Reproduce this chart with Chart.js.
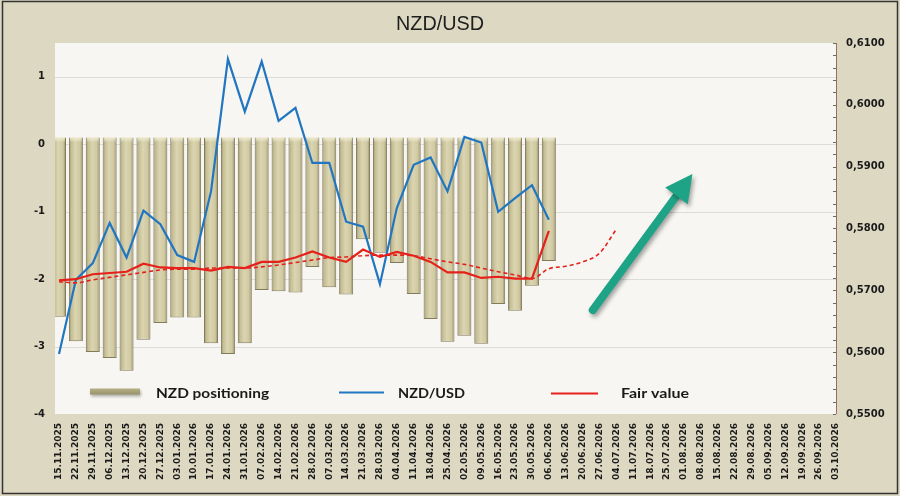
<!DOCTYPE html>
<html><head><meta charset="utf-8">
<script src="https://cdn.jsdelivr.net/npm/chart.js@4.4.1/dist/chart.umd.min.js"></script>
<style>html,body{margin:0;padding:0;background:#dcd8c2;}canvas{display:block;}</style>
</head><body>
<canvas id="c" width="900" height="496"></canvas>
<script>
// ---------- DATA ----------
const categories = ["15.11.2025","22.11.2025","29.11.2025","06.12.2025","13.12.2025","20.12.2025","27.12.2025",
"03.01.2026","10.01.2026","17.01.2026","24.01.2026","31.01.2026","07.02.2026","14.02.2026","21.02.2026","28.02.2026",
"07.03.2026","14.03.2026","21.03.2026","28.03.2026","04.04.2026","11.04.2026","18.04.2026","25.04.2026","02.05.2026",
"09.05.2026","16.05.2026","23.05.2026","30.05.2026","06.06.2026","13.06.2026","20.06.2026","27.06.2026","04.07.2026",
"11.07.2026","18.07.2026","25.07.2026","01.08.2026","08.08.2026","15.08.2026","22.08.2026","29.08.2026","05.09.2026",
"12.09.2026","19.09.2026","26.09.2026","03.10.2026"];

const nzdPositioning = [-2.56,-2.92,-3.08,-3.17,-3.36,-2.90,-2.65,-2.57,-2.57,-2.95,-3.11,-2.95,-2.16,-2.18,-2.20,-1.82,
-2.12,-2.23,-1.41,-1.61,-1.76,-2.22,-2.59,-2.93,-2.84,-2.96,-2.37,-2.47,-2.10,-1.73];

const nzdUsd = [0.5597,0.5717,0.5744,0.5809,0.5753,0.5829,0.5807,0.5757,0.5746,0.5860,0.6074,0.5989,0.6070,0.5974,
0.5995,0.5906,0.5906,0.5811,0.5803,0.5710,0.5833,0.5903,0.5915,0.5860,0.5948,0.5939,0.5827,0.5849,0.5870,0.5814];

const fairValue = [0.5716,0.5718,0.5726,0.5728,0.5730,0.5743,0.5737,0.5736,0.5736,0.5732,0.5738,0.5736,0.5746,0.5746,
0.5753,0.5763,0.5753,0.5746,0.5766,0.5754,0.5762,0.5756,0.5746,0.5729,0.5729,0.5720,0.5722,0.5719,0.5719,0.5796];

const fairValueTrend = [0.5714,0.5712,0.5717,0.5721,0.5725,0.5729,0.5733,0.5734,0.5734,0.5736,0.5736,0.5736,0.5738,
0.5741,0.5745,0.5749,0.5753,0.5754,0.5756,0.5757,0.5757,0.5756,0.5751,0.5746,0.5742,0.5736,0.5730,0.5725,0.5719,
0.5735,0.5739,0.5746,0.5760,0.5799];

const leftAxis = {min: -4, max: 1.5, step: 1};
const rightAxis = {min: 0.55, max: 0.61, step: 0.01, minorPerMajor: 5};
const titleText = "NZD/USD";
const legendLabels = ["NZD positioning", "NZD/USD", "Fair value"];
// arrow annotation, in data coordinates (category index, right-axis value)
const trendArrow = {from: [31.6, 0.5668], to: [37.5, 0.5888]};

// ---------- STYLE ----------
const BEIGE = '#dcd8c2', PLOT = '#f7f6f2', GRID = '#dedcd6';
const BLUE = '#2176c1', RED = '#e5211a', TEAL = '#1fa386';
const TXT = '#1a1a1a';
Chart.defaults.font.family = "'DejaVu Sans', sans-serif";

function drawScaled(ctx, text, x, y, font, targetW, align, color) {
  ctx.save();
  ctx.font = font;
  const w = ctx.measureText(text).width;
  const s = targetW / w;
  ctx.translate(x, y);
  ctx.scale(s, 1);
  ctx.fillStyle = color || TXT;
  ctx.textAlign = 'left';
  ctx.textBaseline = 'alphabetic';
  ctx.fillText(text, align === 'center' ? -w / 2 : 0, 0);
  ctx.restore();
}

// gives each bar a cylinder-like horizontal gradient, using the bar's own pixel position
const barShading = {
  id: 'barShading',
  beforeDatasetsDraw(chart) {
    const meta = chart.getDatasetMeta(0);
    const ctx = chart.ctx;
    meta.data.forEach(el => {
      const w = el.width, x = el.x;
      if (!isFinite(x) || !isFinite(w)) return;
      const g = ctx.createLinearGradient(x - w / 2, 0, x + w / 2, 0);
      g.addColorStop(0, '#8f8963');
      g.addColorStop(0.16, '#c4bd95');
      g.addColorStop(0.45, '#dbd5b0');
      g.addColorStop(0.8, '#cfc8a1');
      g.addColorStop(1, '#8c8660');
      el.options = Object.assign({}, el.options, {backgroundColor: g});
    });
  },
  afterDatasetDraw(chart, args) {
    if (args.index !== 0) return;
    const ctx = chart.ctx, a = chart.chartArea;
    ctx.save();
    ctx.beginPath(); ctx.rect(a.left - 4, a.top, a.right - a.left + 4, a.bottom - a.top); ctx.clip();
    args.meta.data.forEach(el => {
      const w = el.width, x = el.x, top = Math.min(el.y, el.base);
      if (!isFinite(x)) return;
      const g = ctx.createLinearGradient(0, top, 0, top + 5);
      g.addColorStop(0, 'rgba(240,236,210,0.95)');
      g.addColorStop(1, 'rgba(240,236,210,0)');
      ctx.fillStyle = g;
      ctx.fillRect(x - w / 2 + 1, top, w - 2, 5);
    });
    ctx.restore();
  }
};

const decor = {
  id: 'decor',
  beforeDraw(chart) {
    const {ctx, chartArea: a} = chart;
    const y = chart.scales.y;
    ctx.save();
    ctx.fillStyle = BEIGE;
    ctx.fillRect(0, 0, chart.width, chart.height);
    ctx.fillStyle = PLOT;
    ctx.fillRect(a.left - 4, a.top, a.right - a.left + 4, a.bottom - a.top);
    ctx.strokeStyle = GRID; ctx.lineWidth = 1;
    y.ticks.forEach(t => {
      const py = Math.round(y.getPixelForValue(t.value)) + 0.5;
      if (py > a.bottom - 2) return;
      ctx.beginPath(); ctx.moveTo(a.left - 4, py); ctx.lineTo(a.right, py); ctx.stroke();
    });
    ctx.restore();
  },
  afterDatasetsDraw(chart) {
    const {ctx, chartArea: a} = chart;
    const x = chart.scales.x, y1 = chart.scales.y1;
    ctx.save();
    ctx.setLineDash([]);
    // right axis line + ticks
    const ax = Math.round(a.right) + 0.5;
    ctx.strokeStyle = '#9e6b5d'; ctx.lineWidth = 1;
    ctx.beginPath(); ctx.moveTo(ax, a.top); ctx.lineTo(ax, a.bottom); ctx.stroke();
    ctx.strokeStyle = '#6e6a62';
    const minor = rightAxis.step / rightAxis.minorPerMajor;
    const n = Math.round((rightAxis.max - rightAxis.min) / minor);
    for (let i = 0; i <= n; i++) {
      const py = Math.round(y1.getPixelForValue(rightAxis.min + i * minor)) + 0.5;
      ctx.beginPath(); ctx.moveTo(ax - 3.5, py); ctx.lineTo(ax - 0.5, py); ctx.stroke();
    }
    // arrow
    const p0 = [x.getPixelForValue(trendArrow.from[0]), y1.getPixelForValue(trendArrow.from[1])];
    const p1 = [x.getPixelForValue(trendArrow.to[0]), y1.getPixelForValue(trendArrow.to[1])];
    const dx = p1[0] - p0[0], dy = p1[1] - p0[1], L = Math.hypot(dx, dy);
    const ux = dx / L, uy = dy / L, px = -uy, py = ux;
    const hl = 27, hw = 28;
    ctx.shadowColor = 'rgba(0,0,0,0.35)'; ctx.shadowBlur = 4; ctx.shadowOffsetX = 2; ctx.shadowOffsetY = 3;
    ctx.strokeStyle = TEAL; ctx.fillStyle = TEAL; ctx.lineWidth = 8; ctx.lineCap = 'round';
    ctx.beginPath(); ctx.moveTo(p0[0], p0[1]); ctx.lineTo(p1[0] - ux * hl * 0.8, p1[1] - uy * hl * 0.8); ctx.stroke();
    const bx = p1[0] - ux * hl, by = p1[1] - uy * hl;
    ctx.beginPath();
    ctx.moveTo(p1[0], p1[1]);
    ctx.lineTo(bx + px * hw / 2, by + py * hw / 2);
    ctx.lineTo(bx - px * hw / 2, by - py * hw / 2);
    ctx.closePath(); ctx.fill();
    ctx.shadowColor = 'transparent';
    // legend
    const ly = 392.5;
    ctx.shadowColor = 'rgba(0,0,0,0.3)'; ctx.shadowBlur = 3; ctx.shadowOffsetX = 1; ctx.shadowOffsetY = 2;
    const g = ctx.createLinearGradient(0, ly - 4, 0, ly + 3);
    g.addColorStop(0, '#b7b087'); g.addColorStop(1, '#948e64');
    ctx.fillStyle = g; ctx.fillRect(90, ly - 4, 50, 6);
    ctx.shadowColor = 'transparent';
    ctx.lineWidth = 2; ctx.lineCap = 'butt';
    ctx.strokeStyle = BLUE; ctx.beginPath(); ctx.moveTo(339, ly); ctx.lineTo(384, ly); ctx.stroke();
    ctx.strokeStyle = RED; ctx.beginPath(); ctx.moveTo(551, ly + 1); ctx.lineTo(598, ly + 1); ctx.stroke();
    const lf = "bold 14px Lato, 'Open Sans', sans-serif";
    drawScaled(ctx, legendLabels[0], 156, 398, lf, 113);
    drawScaled(ctx, legendLabels[1], 398, 398, lf, 67);
    drawScaled(ctx, legendLabels[2], 621, 398, lf, 68);
    ctx.restore();
  },
  afterDraw(chart) {
    const ctx = chart.ctx;
    drawScaled(ctx, titleText, 440, 30, "21px 'Liberation Sans', Arial, sans-serif", 88, 'center', '#1e1e1e');
    ctx.save();
    ctx.strokeStyle = '#333'; ctx.lineWidth = 1.5;
    ctx.strokeRect(2.5, 1.5, 895, 492);
    ctx.restore();
  }
};

new Chart(document.getElementById('c'), {
  type: 'bar',
  data: {
    labels: categories,
    datasets: [
      {label: legendLabels[0], type: 'bar', data: nzdPositioning, yAxisID: 'y', base: 0.1,
       backgroundColor: '#d6d0a8', borderColor: '#817b5a', borderWidth: 1,
       barPercentage: 0.83, categoryPercentage: 1, order: 3,
       clip: {left: 4, right: 0, top: 0, bottom: 0}},
      {label: legendLabels[1], type: 'line', data: nzdUsd, yAxisID: 'y1', borderColor: BLUE,
       borderWidth: 2.2, pointRadius: 0, tension: 0, order: 2},
      {label: legendLabels[2], type: 'line', data: fairValue, yAxisID: 'y1', borderColor: RED,
       borderWidth: 2.2, pointRadius: 0, tension: 0, order: 1},
      {label: 'Fair value trend', type: 'line', data: fairValueTrend, yAxisID: 'y1', borderColor: RED,
       borderWidth: 1.6, borderDash: [4, 3], pointRadius: 0, cubicInterpolationMode: 'monotone', order: 1}
    ]
  },
  options: {
    responsive: false, devicePixelRatio: 1, animation: false,
    layout: {padding: {top: 43, left: 0, right: 0, bottom: 0}},
    plugins: {legend: {display: false}, title: {display: false}, tooltip: {enabled: false}},
    scales: {
      x: {
        type: 'category', offset: false,
        grid: {display: false, drawTicks: false}, border: {display: false},
        ticks: {autoSkip: false, minRotation: 90, maxRotation: 90, padding: 9,
                color: TXT, font: {size: 9, weight: 'bold'}},
        afterFit: s => { s.height = 82; }
      },
      y: {
        position: 'left', min: leftAxis.min, max: leftAxis.max,
        grid: {display: false, drawTicks: false}, border: {display: false},
        ticks: {stepSize: leftAxis.step, padding: 14, color: TXT, font: {size: 10, weight: 'bold'}},
        afterBuildTicks: s => { s.ticks = s.ticks.filter(t => Math.abs(t.value - Math.round(t.value)) < 1e-9); },
        afterFit: s => { s.width = 59; }
      },
      y1: {
        position: 'right', min: rightAxis.min, max: rightAxis.max,
        grid: {display: false, drawTicks: false}, border: {display: false},
        ticks: {stepSize: rightAxis.step, padding: 10, color: TXT, font: {size: 10, weight: 'bold'},
                callback: v => Number(v).toFixed(4).replace('.', ',')},
        afterFit: s => { s.width = 64; }
      }
    }
  },
  plugins: [barShading, decor]
});
</script>
</body></html>
